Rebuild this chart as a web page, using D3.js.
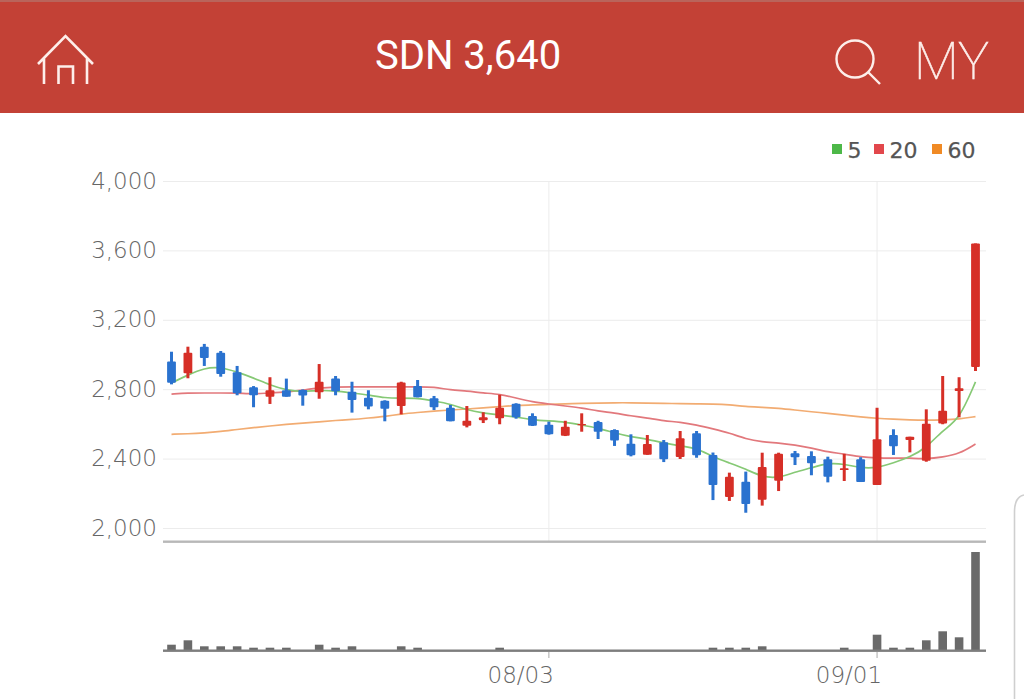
<!DOCTYPE html>
<html>
<head>
<meta charset="utf-8">
<script src="https://cdn.jsdelivr.net/npm/d3@7"></script>
<style>
  html, body { margin: 0; padding: 0; background: #fff; overflow: hidden; }
  svg { display: block; }
</style>
</head>
<body>
<div id="chart"></div>
<script>
var highs = [3016,3045,3061,3020,2934,2818,2869,2861,2799,2945,2876,2843,2794,2736,2843,2853,2761,2709,2703,2667,2768,2719,2661,2613,2618,2661,2618,2569,2540,2536,2507,2559,2559,2435,2319,2325,2434,2434,2444,2442,2411,2427,2408,2693,2569,2526,2684,2876,2869,3640];
var lows = [2828,2863,2934,2872,2765,2696,2715,2757,2705,2745,2765,2665,2684,2615,2655,2753,2680,2615,2580,2605,2598,2630,2588,2538,2530,2555,2513,2473,2413,2422,2380,2398,2405,2161,2156,2088,2129,2213,2363,2304,2263,2271,2265,2248,2421,2436,2382,2598,2638,2905];
// first/last of the body, blue when last is below first
var opens = [2959,2892,3045,3010,2897,2811,2757,2794,2795,2782,2861,2786,2751,2734,2703,2818,2748,2693,2590,2621,2632,2716,2646,2595,2532,2592,2611,2565,2486,2422,2494,2409,2546,2421,2179,2267,2163,2273,2431,2415,2396,2334,2396,2248,2536,2507,2388,2603,2790,2928];
var closes = [2837,3010,2980,2888,2776,2765,2794,2757,2763,2843,2788,2738,2701,2688,2838,2753,2696,2615,2618,2638,2693,2638,2590,2540,2584,2599,2555,2505,2419,2484,2396,2517,2419,2248,2296,2138,2352,2428,2408,2373,2296,2344,2265,2511,2471,2526,2601,2676,2805,3640];
var ma5 = [2836,2882,2922,2928,2899,2865,2824,2795,2784,2795,2790,2778,2767,2749,2749,2749,2732,2715,2680,2663,2651,2640,2623,2617,2611,2594,2576,2548,2525,2513,2490,2473,2461,2409,2375,2340,2294,2288,2323,2346,2375,2369,2346,2346,2375,2409,2461,2565,2623,2842];
var ma20 = [2772,2778,2778,2778,2778,2772,2778,2784,2795,2807,2813,2813,2813,2813,2813,2813,2813,2795,2790,2778,2772,2749,2726,2715,2703,2692,2674,2663,2646,2634,2617,2611,2594,2571,2548,2513,2496,2490,2478,2461,2438,2427,2409,2403,2403,2403,2398,2409,2427,2484];
var ma60 = [2540,2543,2548,2556,2568,2578,2588,2597,2605,2612,2620,2625,2634,2643,2657,2666,2674,2680,2686,2692,2699,2707,2709,2713,2715,2719,2720,2722,2722,2720,2719,2716,2715,2715,2711,2699,2696,2690,2680,2670,2661,2651,2640,2632,2627,2623,2621,2623,2628,2642];
var volumes = [5.3,9.7,3.7,3.7,3.7,2.3,2.3,2.3,0,5.3,2.3,3.7,0,0,3.7,2.3,0,0,0,0,2.3,0,0,0,0,0,0,0,0,0,0,0,0,2.3,2.3,2.3,3.7,0,0,0,0,2.3,0,15.3,2.3,2.3,9.7,18.7,12.7,98];
var priceTicks = [2000,2400,2800,3200,3600,4000];
var dateLabels = [{i: 23, text: "08/03"}, {i: 43, text: "09/01"}];
var legendNames = ["5", "20", "60"];
var legendColors = ["#4db848", "#e2474c", "#f08a24"];

var width = 1024, height = 699;
var upColor = "#d62f27", downColor = "#2a72cf";
var labelFont = "200 23px 'DejaVu Sans'";

var svg = d3.select("#chart").append("svg")
  .attr("width", width)
  .attr("height", height);

svg.append("rect").attr("width", width).attr("height", height).attr("fill", "#fff");

// header
svg.append("rect").attr("width", width).attr("height", 113).attr("fill", "#c34136");
svg.append("rect").attr("width", width).attr("height", 2).attr("fill", "#b9645b");
svg.append("text")
  .attr("x", 468).attr("y", 69)
  .attr("text-anchor", "middle")
  .attr("fill", "#fff")
  .style("font", "400 40px Roboto")
  .text("SDN 3,640");
svg.append("path")
  .attr("d", "M38,64L65.5,36L93,64M44,58V84M87,58V84M58.5,84V66.5H73V84")
  .attr("fill", "none").attr("stroke", "#fdeeea").attr("stroke-width", 2.6);
svg.append("circle")
  .attr("cx", 855).attr("cy", 59).attr("r", 18.5)
  .attr("fill", "none").attr("stroke", "#fdeeea").attr("stroke-width", 2.4);
svg.append("path")
  .attr("d", "M868,72L880,84")
  .attr("fill", "none").attr("stroke", "#fdeeea").attr("stroke-width", 2.4);
svg.append("text")
  .attr("x", 914).attr("y", 79)
  .attr("fill", "#fdeeea")
  .attr("stroke", "#fdeeea").attr("stroke-width", 0.6)
  .style("font", "100 52px Roboto")
  .text("MY");

// scales
var x = d3.scaleLinear().domain([0, highs.length - 1]).range([171.5, 975.5]);
var y = d3.scaleLinear().domain([2000, 4000]).range([528, 181]);
var yVol = d3.scaleLinear().domain([0, 98]).range([650, 552]);

// price grid and labels
var yAxis = d3.axisLeft(y)
  .tickValues(priceTicks)
  .tickFormat(d3.format(","))
  .tickSize(-823)
  .tickPadding(6);
var yG = svg.append("g").attr("transform", "translate(163,0)").call(yAxis);
yG.select(".domain").remove();
yG.selectAll("line").attr("stroke", "#ececec");
yG.selectAll("text")
  .attr("fill", "#666")
  .attr("dy", "0.31em")
  .style("font", labelFont);

// date grid
svg.selectAll(".vgrid").data(dateLabels).enter().append("line")
  .attr("class", "vgrid")
  .attr("x1", function (d) { return x(d.i); })
  .attr("x2", function (d) { return x(d.i); })
  .attr("y1", 181).attr("y2", 541)
  .attr("stroke", "#ececec");

// moving averages, under the candles
var line = d3.line()
  .x(function (d, i) { return x(i); })
  .y(function (d) { return y(d); })
  .curve(d3.curveBasis);
[[ma60, "#f2ac72"], [ma20, "#e2787c"], [ma5, "#86c975"]].forEach(function (s) {
  svg.append("path")
    .attr("d", line(s[0]))
    .attr("fill", "none")
    .attr("stroke", s[1])
    .attr("stroke-width", 1.7);
});

// candles
var candle = svg.selectAll(".candle").data(d3.range(highs.length)).enter().append("g")
  .attr("class", "candle")
  .attr("fill", function (i) { return closes[i] >= opens[i] ? upColor : downColor; });
candle.append("rect")
  .attr("x", function (i) { return x(i) - 1.5; })
  .attr("width", 3)
  .attr("y", function (i) { return y(highs[i]); })
  .attr("height", function (i) { return y(lows[i]) - y(highs[i]); });
candle.append("rect")
  .attr("x", function (i) { return x(i) - 4.4; })
  .attr("width", 8.8)
  .attr("rx", 1)
  .attr("y", function (i) { return y(Math.max(opens[i], closes[i])); })
  .attr("height", function (i) { return Math.abs(y(opens[i]) - y(closes[i])); });

// separator
svg.append("rect").attr("x", 163).attr("y", 540.5).attr("width", 823).attr("height", 2.4).attr("fill", "#b8b8b8");

// volume
svg.selectAll(".vol").data(volumes).enter().append("rect")
  .attr("class", "vol")
  .attr("x", function (d, i) { return x(i) - 4.3; })
  .attr("width", 8.6)
  .attr("y", function (d) { return yVol(d); })
  .attr("height", function (d) { return yVol(0) - yVol(d); })
  .attr("fill", "#6a6a6a");
svg.append("rect").attr("x", 163).attr("y", 649.5).attr("width", 823).attr("height", 2.4).attr("fill", "#7d7d7d");

// date ticks and labels
svg.selectAll(".dtick").data(dateLabels).enter().append("line")
  .attr("class", "dtick")
  .attr("x1", function (d) { return x(d.i); })
  .attr("x2", function (d) { return x(d.i); })
  .attr("y1", 652).attr("y2", 658)
  .attr("stroke", "#aaa");
svg.selectAll(".dlabel").data(dateLabels).enter().append("text")
  .attr("class", "dlabel")
  .attr("x", function (d) { return x(d.i) + 5; })
  .attr("y", 683)
  .attr("text-anchor", "end")
  .attr("fill", "#666")
  .style("font", labelFont)
  .text(function (d) { return d.text; });

// legend
var legendX = [832, 874, 932];
var legend = svg.selectAll(".leg").data(legendNames).enter().append("g").attr("class", "leg");
legend.append("rect")
  .attr("x", function (d, i) { return legendX[i]; })
  .attr("y", 144).attr("width", 10).attr("height", 10)
  .attr("fill", function (d, i) { return legendColors[i]; });
legend.append("text")
  .attr("x", function (d, i) { return legendX[i] + 15.5; })
  .attr("y", 158)
  .attr("fill", "#555")
  .attr("stroke", "#555").attr("stroke-width", 0.25)
  .style("font", "22px 'DejaVu Sans'")
  .text(function (d) { return d; });

// edge of the panel behind, bottom right
svg.append("path")
  .attr("d", "M1014.5,699V512Q1014.5,497 1024,495")
  .attr("fill", "none").attr("stroke", "#cfcfcf").attr("stroke-width", 1.6);
</script>
</body>
</html>
